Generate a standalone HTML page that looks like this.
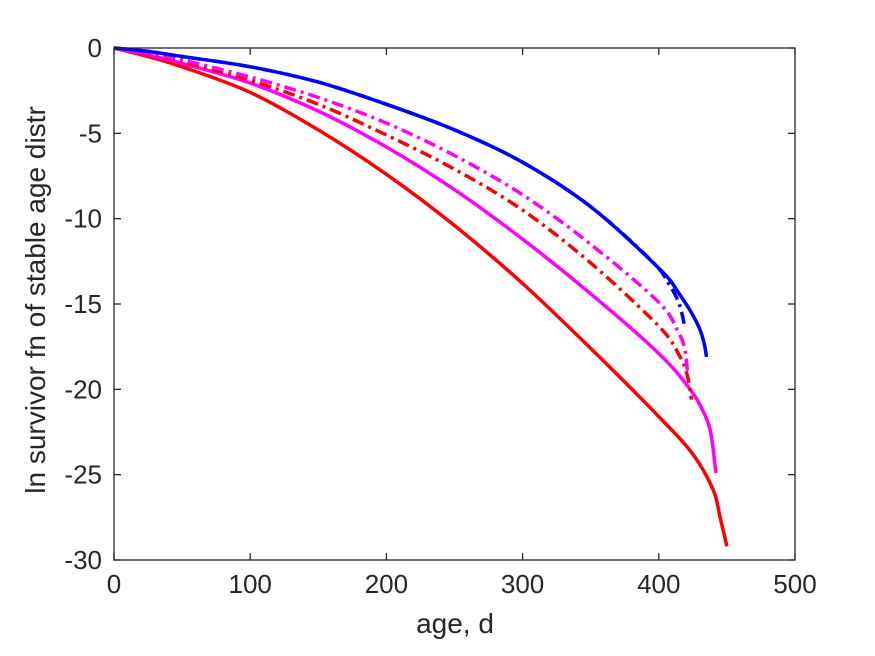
<!DOCTYPE html>
<html><head><meta charset="utf-8"><style>
body{margin:0;background:#fff}
svg{display:block;font-family:"Liberation Sans",Arial,sans-serif}
</style></head><body>
<svg id="chart" width="875" height="656" viewBox="0 0 875 656" xmlns="http://www.w3.org/2000/svg">
<rect width="875" height="656" fill="#fff"/>
<g id="plot"></g>
<g id="axes"></g>
<text x="455" y="633" font-size="28" text-anchor="middle" fill="#262626">age, d</text>
<text transform="translate(45,300) rotate(-90)" font-size="28" text-anchor="middle" fill="#262626">ln survivor fn of stable age distr</text>
</svg>
<script>
const xTicks=[0,100,200,300,400,500];
const yTicks=[0,-5,-10,-15,-20,-25,-30];
const redSolidX=[0,25,50,100,150,200,250,300,350,400,425,440,445,448,450];
const redSolidY=[0,-0.5,-1.1,-2.6,-4.8,-7.4,-10.4,-13.8,-17.6,-21.6,-23.8,-25.9,-27.5,-28.5,-29.2];
const magSolidX=[0,25,50,100,150,200,250,300,350,400,422,432,438,442];
const magSolidY=[0,-0.4,-0.9,-2.05,-3.7,-5.8,-8.3,-11.2,-14.4,-17.9,-19.9,-21.2,-22.5,-24.9];
const magDashX=[0,25,50,100,150,200,250,300,350,400,414,419,421];
const magDashY=[0,-0.3,-0.7,-1.7,-2.9,-4.4,-6.3,-8.6,-11.5,-14.9,-16.6,-17.6,-18.9];
const redDashX=[0,25,50,100,150,200,250,300,350,400,415,421,424];
const redDashY=[0,-0.35,-0.8,-1.9,-3.3,-5.1,-7.1,-9.5,-12.6,-16.3,-18.0,-19.2,-20.6];
const blueSolidX=[0,25,50,100,150,200,250,300,350,400,415,428,433,435];
const blueSolidY=[0,-0.2,-0.5,-1.1,-2.0,-3.3,-4.8,-6.7,-9.3,-12.9,-14.4,-16.1,-17.2,-18.1];
const blueDashX=[0,25,50,100,150,200,250,300,350,395,408,415,419];
const blueDashY=[0,-0.2,-0.5,-1.1,-2.0,-3.3,-4.8,-6.7,-9.3,-12.5,-13.9,-15.0,-16.3];

const L=114,R=795,T=48,B=560;
const sx=v=>L+(v-0)/(500-0)*(R-L);
const sy=v=>T+(0-v)/(0-(-30))*(B-T);
const NS='http://www.w3.org/2000/svg';
const plot=document.getElementById('plot'),axes=document.getElementById('axes');
function mk(tag,attrs,parent){const e=document.createElementNS(NS,tag);for(const k in attrs)e.setAttribute(k,attrs[k]);parent.appendChild(e);return e;}
function smooth(px,py){
 let d='M'+px[0].toFixed(1)+','+py[0].toFixed(1);
 for(let i=0;i<px.length-1;i++){
  const i0=Math.max(0,i-1),i3=Math.min(px.length-1,i+2);
  const c1x=px[i]+(px[i+1]-px[i0])/6,c1y=py[i]+(py[i+1]-py[i0])/6;
  const c2x=px[i+1]-(px[i3]-px[i])/6,c2y=py[i+1]-(py[i3]-py[i])/6;
  d+=' C'+c1x.toFixed(1)+','+c1y.toFixed(1)+' '+c2x.toFixed(1)+','+c2y.toFixed(1)+' '+px[i+1].toFixed(1)+','+py[i+1].toFixed(1);
 }
 return d;
}

const series=[
 [redSolidX,redSolidY,'#ff0000',null,'series-red-solid'],
 [magSolidX,magSolidY,'#ff00ff',null,'series-magenta-solid'],
 [redDashX,redDashY,'#ff0000','12 5 3 5','series-red-dashdot'],
 [magDashX,magDashY,'#ff00ff','12 5 3 5','series-magenta-dashdot'],
 [blueSolidX,blueSolidY,'#0000ff',null,'series-blue-solid'],
 [blueDashX,blueDashY,'#0000ff','12 5 3 5','series-blue-dashdot']
];
series.forEach(s=>{
 const d=smooth(s[0].map(sx),s[1].map(sy));
 const p=mk('path',{d:d,fill:'none',stroke:s[2],'stroke-width':3.5,'stroke-linejoin':'round'},plot);
 if(s[3])p.setAttribute('stroke-dasharray',s[3]);
 
 
});

const box=mk('rect',{x:L,y:T,width:R-L,height:B-T,fill:'none',stroke:'#262626','stroke-width':1.3},axes);


xTicks.forEach(v=>{
 const x=sx(v);
 mk('line',{x1:x,y1:B,x2:x,y2:B-7,stroke:'#262626','stroke-width':1.3},axes);
 mk('line',{x1:x,y1:T,x2:x,y2:T+7,stroke:'#262626','stroke-width':1.3},axes);
 const t=mk('text',{x:x,y:B+33,'font-size':26,'text-anchor':'middle',fill:'#262626'},axes);
 t.textContent=v;
 
 
});
yTicks.forEach(v=>{
 const y=sy(v);
 mk('line',{x1:L,y1:y,x2:L+7,y2:y,stroke:'#262626','stroke-width':1.3},axes);
 mk('line',{x1:R,y1:y,x2:R-7,y2:y,stroke:'#262626','stroke-width':1.3},axes);
 const t=mk('text',{x:L-12,y:y+9,'font-size':26,'text-anchor':'end',fill:'#262626'},axes);
 t.textContent=v;
 
 
});
</script>
</body></html>
